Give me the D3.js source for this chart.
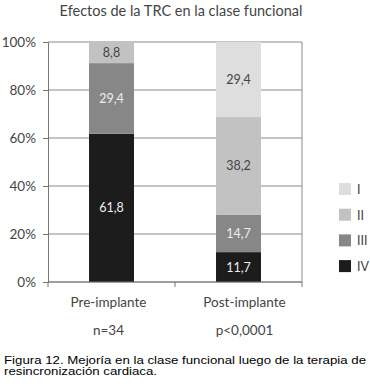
<!DOCTYPE html>
<html>
<head>
<meta charset="utf-8">
<script src="https://cdn.jsdelivr.net/npm/d3@7"></script>
<style>
  body { margin: 0; background: #fff; }
  svg text { font-family: "Lato", "Open Sans", sans-serif; }
  svg text.caption { font-family: "Liberation Sans", Arial, sans-serif; }
</style>
</head>
<body>
<div id="chart"></div>
<script>
// Chart data
const groups = ["Pre-implante", "Post-implante"];
const groupNotes = ["n=34", "p<0,0001"];
const classes = ["IV", "III", "II", "I"];
const classI = [0, 29.4];
const classII = [8.8, 38.2];
const classIII = [29.4, 14.7];
const classIV = [61.8, 11.7];
const yTicks = [0, 0.2, 0.4, 0.6, 0.8, 1];

const colors = { "I": "#dedede", "II": "#c2c2c2", "III": "#878787", "IV": "#1c1c1c" };
const labelColors = { "I": "#444", "II": "#444", "III": "#eee", "IV": "#eee" };

const width = 370, height = 389;
const margin = { top: 42, right: 68, bottom: 107, left: 48 };
const innerW = width - margin.left - margin.right;
const innerH = height - margin.top - margin.bottom;

const rows = groups.map((g, i) => ({
  group: g, "I": classI[i], "II": classII[i], "III": classIII[i], "IV": classIV[i]
}));

// stack normalised to 100%
const series = d3.stack().keys(classes).offset(d3.stackOffsetExpand)(rows);

const svg = d3.select("#chart").append("svg")
  .attr("width", width).attr("height", height);

svg.append("text")
  .attr("x", 181).attr("y", 16)
  .attr("text-anchor", "middle")
  .attr("font-size", 14.5)
  .attr("fill", "#444")
  .text("Efectos de la TRC en la clase funcional");

const g = svg.append("g").attr("transform", `translate(${margin.left},${margin.top})`);

const x = d3.scaleBand().domain(groups).range([0, innerW])
  .paddingInner(0.646).paddingOuter(0.323);
const y = d3.scaleLinear().domain([0, 1]).range([innerH, 0]);

// gridlines
g.selectAll(".grid").data(yTicks).enter().append("line")
  .attr("x1", 0).attr("x2", innerW)
  .attr("y1", d => y(d)).attr("y2", d => y(d))
  .attr("stroke", "#8a8a8a").attr("stroke-width", 1);

// right border
g.append("line").attr("x1", innerW).attr("x2", innerW)
  .attr("y1", 0).attr("y2", innerH).attr("stroke", "#8a8a8a");

// bars
const layer = g.selectAll(".layer").data(series).enter().append("g")
  .attr("fill", d => colors[d.key]);

layer.selectAll("rect").data(d => d.map(p => ({ key: d.key, p }))).enter().append("rect")
  .attr("x", d => x(d.p.data.group))
  .attr("width", x.bandwidth())
  .attr("y", d => y(d.p[1]))
  .attr("height", d => y(d.p[0]) - y(d.p[1]));

// value labels
series.forEach(s => {
  s.forEach(p => {
    const v = p.data[s.key];
    if (!v) return;
    g.append("text")
      .attr("x", x(p.data.group) + x.bandwidth() / 2)
      .attr("y", (y(p[0]) + y(p[1])) / 2 + 4.5)
      .attr("text-anchor", "middle")
      .attr("font-size", 12.5)
      .attr("fill", labelColors[s.key])
      .text(d3.format(".1f")(v).replace(".", ","));
  });
});

// y axis
const yAxis = g.append("g")
  .call(d3.axisLeft(y).tickValues(yTicks).tickFormat(d3.format(".0%")).tickSize(5).tickPadding(7));
yAxis.select(".domain").attr("stroke", "#777");
yAxis.selectAll(".tick line").attr("stroke", "#777");
yAxis.selectAll("text").attr("font-size", 13.5).attr("fill", "#444").attr("dy", "0.35em");

// x axis line with ticks at band boundaries
g.append("line").attr("x1", 0).attr("x2", innerW)
  .attr("y1", innerH).attr("y2", innerH).attr("stroke", "#777");
[0, innerW / 2, innerW].forEach(t => {
  g.append("line").attr("x1", t).attr("x2", t)
    .attr("y1", innerH).attr("y2", innerH + 5).attr("stroke", "#777");
});

const labelOffsets = [-3, 6];
groups.forEach((grp, i) => {
  const cx = x(grp) + x.bandwidth() / 2 + labelOffsets[i];
  g.append("text").attr("x", cx).attr("y", innerH + 25)
    .attr("text-anchor", "middle").attr("font-size", 13.5).attr("fill", "#444").text(grp);
  g.append("text").attr("x", cx).attr("y", innerH + 53)
    .attr("text-anchor", "middle").attr("font-size", 13.5).attr("fill", "#444").text(groupNotes[i]);
});

// legend
const legendKeys = ["I", "II", "III", "IV"];
const legend = svg.append("g").attr("transform", "translate(339,183)");
legendKeys.forEach((k, i) => {
  legend.append("rect").attr("x", 0).attr("y", i * 25.7)
    .attr("width", 12).attr("height", 12).attr("fill", colors[k]);
  legend.append("text").attr("x", 18).attr("y", i * 25.7 + 11)
    .attr("font-size", 12.5).attr("fill", "#444").text(k);
});

// caption (the source image is stretched horizontally)
svg.append("text").attr("class", "caption")
  .attr("x", 4).attr("y", 363.5)
  .attr("font-size", 11).attr("fill", "#000")
  .attr("textLength", 362).attr("lengthAdjust", "spacingAndGlyphs")
  .text("Figura 12. Mejoría en la clase funcional luego de la terapia de");
svg.append("text").attr("class", "caption")
  .attr("x", 4).attr("y", 375)
  .attr("font-size", 11).attr("fill", "#000")
  .attr("textLength", 153).attr("lengthAdjust", "spacingAndGlyphs")
  .text("resincronización cardiaca.");
</script>
</body>
</html>
